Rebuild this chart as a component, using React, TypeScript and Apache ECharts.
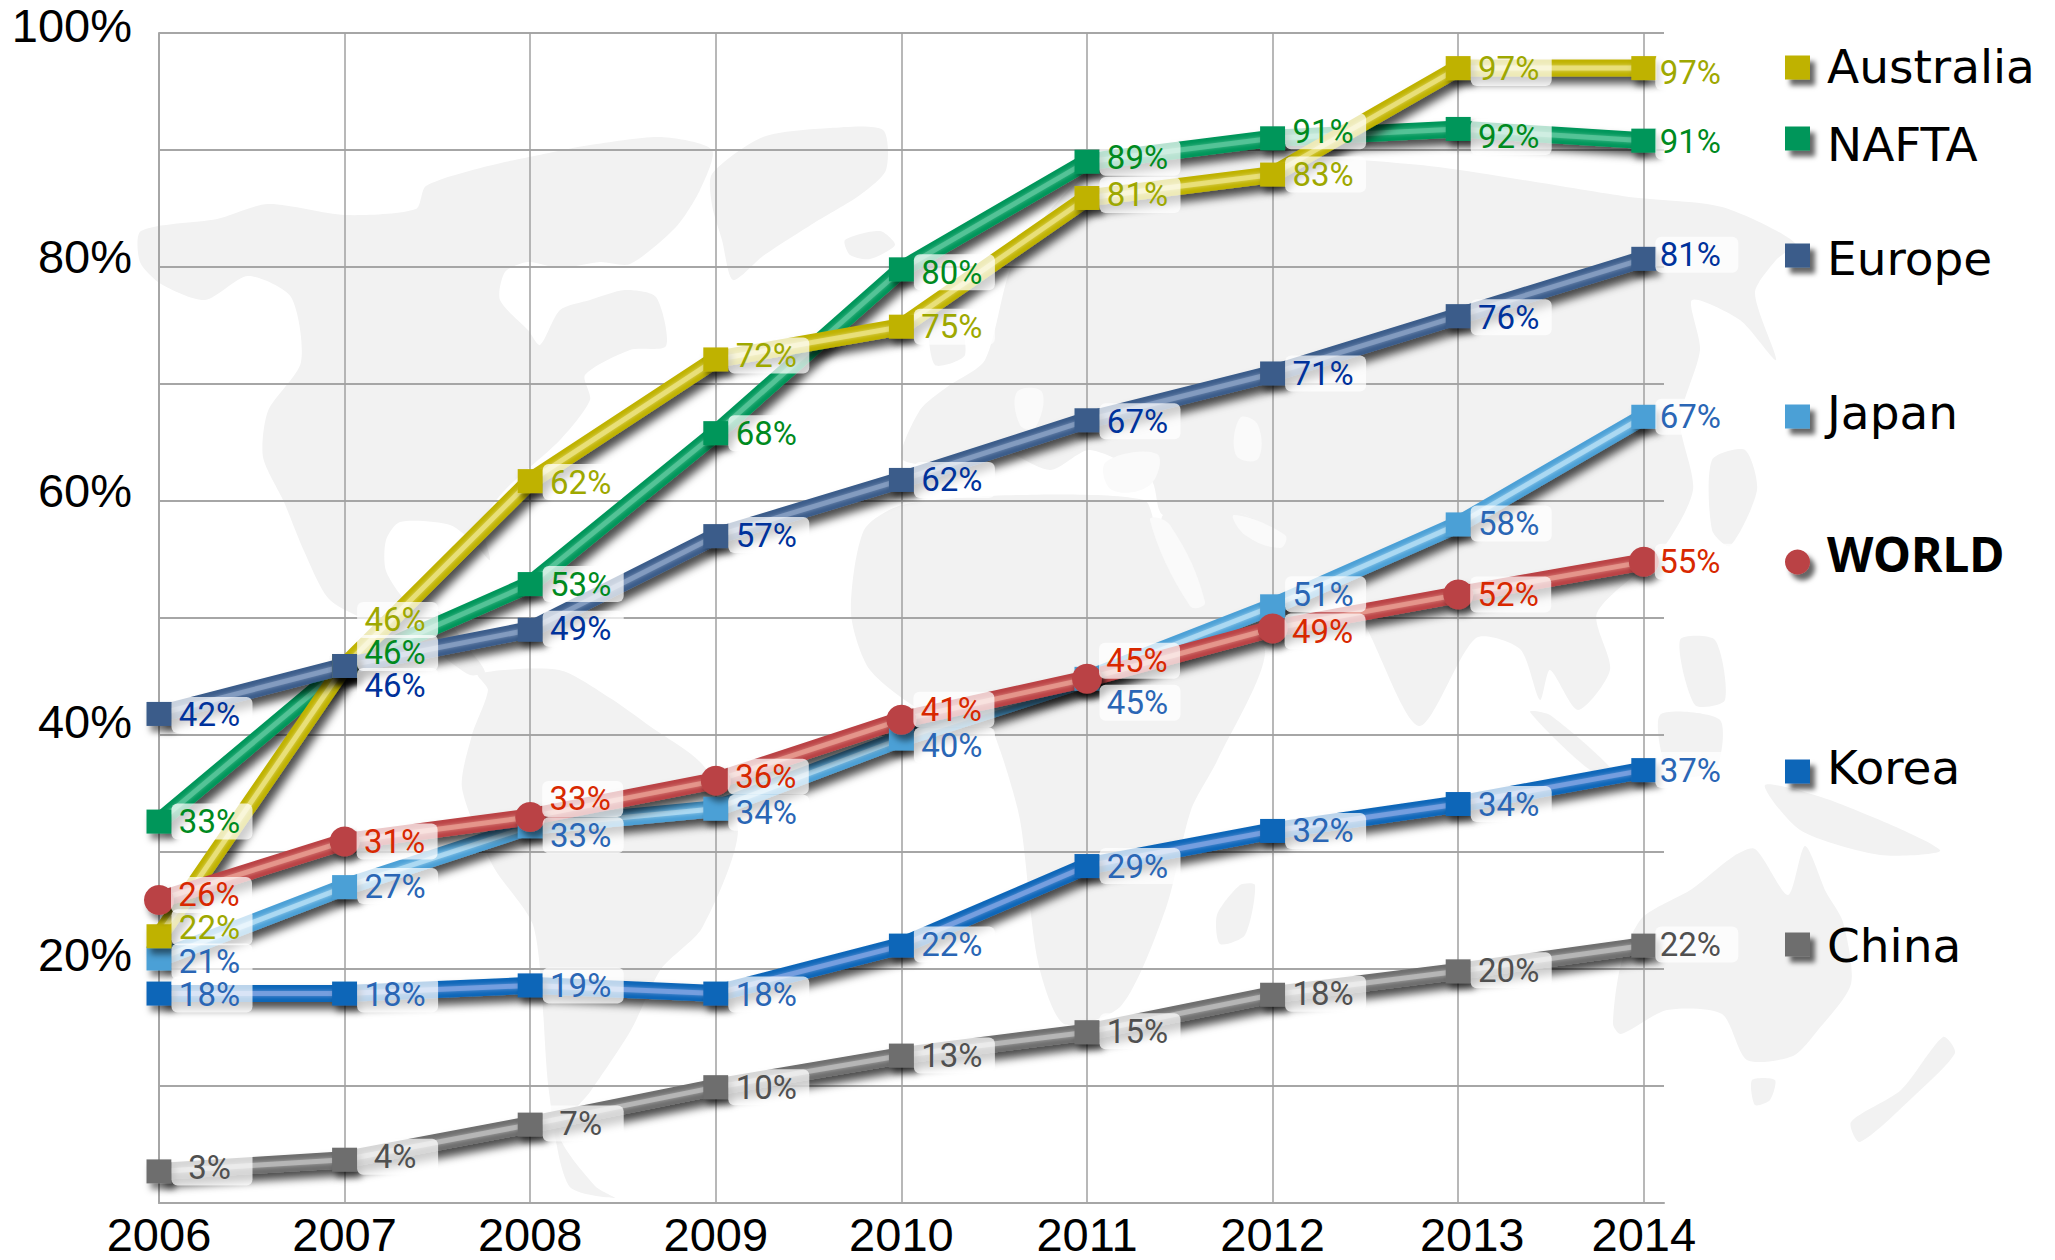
import React, { useEffect, useRef } from "react";
import * as echarts from "echarts";

const years = [2006, 2007, 2008, 2009, 2010, 2011, 2012, 2013, 2014];
const yTickLabels = [20, 40, 60, 80, 100];

const australiaValues = [22.8, 45.9, 61.7, 72.1, 74.9, 85.9, 87.9, 97, 97];
const naftaValues = [32.6, 45.9, 52.9, 65.8, 79.8, 89, 91, 91.8, 90.8];
const europeValues = [41.8, 45.9, 49, 57, 61.8, 66.9, 70.9, 75.8, 80.7];
const japanValues = [20.9, 27, 32.2, 33.7, 39.7, 44.8, 51, 58, 67.2];
const worldValues = [25.9, 30.9, 33, 36.1, 41.3, 44.8, 49.1, 52, 54.8];
const koreaValues = [17.9, 17.9, 18.6, 17.9, 22, 28.8, 31.8, 34.1, 37];
const chinaValues = [2.7, 3.7, 6.7, 9.9, 12.6, 14.6, 17.8, 19.8, 22];

const australiaLabels = [22, 46, 62, 72, 75, 81, 83, 97, 97];
const naftaLabels = [33, 46, 53, 68, 80, 89, 91, 92, 91];
const europeLabels = [42, 46, 49, 57, 62, 67, 71, 76, 81];
const japanLabels = [21, 27, 33, 34, 40, 45, 51, 58, 67];
const worldLabels = [26, 31, 33, 36, 41, 45, 49, 52, 55];
const koreaLabels = [18, 18, 19, 18, 22, 29, 32, 34, 37];
const chinaLabels = [3, 4, 7, 10, 13, 15, 18, 20, 22];

// vertical label nudges, in pixels
const australiaNudge = [-9, -46, 1, -4, 0, -3, 0, 0, 4];
const naftaNudge = [0, -13, 0, 0, 3, -4, -7, 8, 1];
const europeNudge = [1, 20, -1, -1, 0, 1, 0, 1, -4];
const japanNudge = [3, -1, 9, 4, 7, 24, -12, -1, 0];
const worldNudge = [-5, 0, -18, -4, -10, -18, 3, 0, 0];
const koreaNudge = [1, 1, 0, 1, -1, 0, 0, 0, 0];
const chinaNudge = [-4, -3, -1, 0, 0, -1, -1, -1, -1];

const seriesDefs = [
  { name: "China", values: chinaValues, labels: chinaLabels, nudge: chinaNudge, color: "#6e6e6e", hi: "#bdbdbd", text: "#505050", legendY: 946, textDy: 1 },
  { name: "Korea", values: koreaValues, labels: koreaLabels, nudge: koreaNudge, color: "#0e66b8", hi: "#7fa4e2", text: "#2a66b5", legendY: 773, textDy: -4 },
  { name: "Japan", values: japanValues, labels: japanLabels, nudge: japanNudge, color: "#4ca0d6", hi: "#b4def5", text: "#2a66b5", legendY: 418, textDy: -4 },
  { name: "NAFTA", values: naftaValues, labels: naftaLabels, nudge: naftaNudge, color: "#00965a", hi: "#5cc79c", text: "#008a1e", legendY: 140, textDy: 6 },
  { name: "Australia", values: australiaValues, labels: australiaLabels, nudge: australiaNudge, color: "#bfb200", hi: "#ece385", text: "#9ea800", legendY: 69, textDy: -1 },
  { name: "Europe", values: europeValues, labels: europeLabels, nudge: europeNudge, color: "#3a5c8a", hi: "#8aa1c4", text: "#00329b", legendY: 257, textDy: 3 },
  { name: "WORLD", values: worldValues, labels: worldLabels, nudge: worldNudge, color: "#ba4244", hi: "#e89d92", text: "#d82800", legendY: 563, textDy: -9 },
];
const legendOrder = ["Australia", "NAFTA", "Europe", "Japan", "WORLD", "Korea", "China"];

// faint decorative world-map backdrop (page pixels)
const mapLand: number[][][] = [
  // North America
  [[141,231],[217,219],[268,204],[345,215],[416,209],[426,186],[488,166],[549,153],[590,145],[661,137],[712,150],[700,190],[676,227],[630,264],[600,262],[560,268],[528,262],[505,272],[500,300],[528,330],[540,345],[560,310],[590,300],[625,290],[656,297],[666,346],[630,350],[585,375],[590,400],[560,440],[505,490],[483,522],[490,560],[476,545],[450,525],[400,522],[386,540],[386,571],[410,605],[440,612],[470,650],[485,672],[470,675],[440,655],[386,629],[330,600],[304,551],[284,502],[263,457],[268,411],[301,362],[291,297],[248,276],[205,300],[161,284],[140,262]],
  // Greenland
  [[712,174],[763,137],[830,128],[883,130],[886,170],[860,195],[814,223],[763,256],[733,280],[722,240],[712,205]],
  // South America
  [[488,690],[478,674],[559,670],[610,698],[651,727],[702,764],[738,830],[702,928],[661,969],[631,1030],[590,1092],[559,1133],[595,1186],[615,1198],[569,1186],[549,1092],[534,928],[493,866],[462,788],[472,735]],
  // Africa
  [[864,530],[902,505],[1017,495],[1144,500],[1157,531],[1208,613],[1265,650],[1217,761],[1191,810],[1166,908],[1121,1006],[1064,1024],[1038,962],[1020,820],[1000,750],[985,720],[930,715],[870,670],[851,613]],
  // Eurasia
  [[902,459],[920,410],[947,387],[985,360],[1017,254],[1119,151],[1297,156],[1438,167],[1629,197],[1722,207],[1795,243],[1776,260],[1755,293],[1776,360],[1740,320],[1692,300],[1700,350],[1680,420],[1693,490],[1661,551],[1597,613],[1610,670],[1578,710],[1550,670],[1540,700],[1520,649],[1476,638],[1419,726],[1361,618],[1330,590],[1291,577],[1246,515],[1163,515],[1151,480],[1090,450],[1050,470],[1000,450],[960,465]],
  // Arabia
  [[1163,515],[1246,515],[1320,590],[1291,630],[1220,660],[1180,590]],
  // Iceland
  [[845,240],[880,231],[895,245],[870,259],[850,255]],
  // Britain
  [[930,320],[955,310],[965,355],[935,365]],
  // Japan
  [[1712,460],[1745,450],[1757,490],[1730,546],[1712,530]],
  // Philippines
  [[1680,640],[1715,640],[1725,700],[1695,705]],
  // Madagascar
  [[1240,885],[1255,885],[1245,935],[1220,944],[1217,915]],
  // Sumatra
  [[1530,712],[1550,715],[1612,770],[1590,770]],
  // Borneo
  [[1660,715],[1720,720],[1715,770],[1670,775]],
  // New Guinea
  [[1765,785],[1830,800],[1940,850],[1880,855],[1800,830]],
  // Australia
  [[1613,1024],[1621,964],[1642,918],[1692,889],[1734,856],[1755,849],[1788,895],[1805,846],[1826,892],[1843,922],[1851,984],[1818,1030],[1793,1056],[1747,1060],[1722,1014],[1667,1010],[1621,1034]],
  // Tasmania
  [[1752,1080],[1775,1080],[1770,1100],[1755,1105]],
  // New Zealand
  [[1851,1122],[1901,1090],[1943,1037],[1955,1053],[1914,1096],[1860,1142]],
];
// inland seas cut out of the backdrop
const mapSeas: number[][][] = [
  [[1017,392],[1042,392],[1035,428],[1020,425]], // Baltic
  [[1106,462],[1157,454],[1150,485],[1112,490]], // Black Sea
  [[1240,418],[1258,425],[1258,459],[1236,455]], // Caspian
  [[1234,515],[1285,535],[1280,548],[1245,535]], // Persian Gulf
  [[1150,520],[1170,525],[1205,602],[1190,606]], // Red Sea
];

const yLabelLineHeights: Record<number, number> = { 100: 15, 80: 22, 60: 22, 40: 28, 20: 30 };

export default function App() {
  const ref = useRef<HTMLDivElement | null>(null);

  useEffect(() => {
    const chart = echarts.init(ref.current!, undefined, { renderer: "svg" });
    const shadow = { shadowColor: "rgba(0,0,0,0.7)", shadowBlur: 8, shadowOffsetX: 5, shadowOffsetY: 7 };
    const series: any[] = [];
    seriesDefs.forEach((d) => {
      const pts = years.map((y, i) => [y, d.values[i]]);
      series.push({
        name: d.name,
        type: "line",
        data: pts,
        symbol: "none",
        silent: true,
        itemStyle: { color: d.color },
        lineStyle: { color: d.color, width: 17, join: "miter", ...shadow },
      });
      const isWorld = d.name === "WORLD";
      series.push({
        name: d.name + " markers",
        type: "line",
        symbol: isWorld ? "circle" : "rect",
        symbolSize: isWorld ? 30 : [25, 24],
        showSymbol: true,
        showAllSymbol: true,
        silent: true,
        itemStyle: { color: d.color, shadowColor: "rgba(0,0,0,0.5)", shadowBlur: 6, shadowOffsetX: 4, shadowOffsetY: 6 },
        lineStyle: { color: d.hi, width: 5, opacity: 0.8, shadowColor: d.hi, shadowBlur: 4 },
        data: pts.map((p, i) => ({
          value: p,
          label: {
            show: true,
            position: "right",
            distance: isWorld ? -3 : 0,
            offset: [i === 8 ? -1 : 0, d.nudge[i]],
            formatter: `{v|${d.labels[i]}%}`,
            backgroundColor: "rgba(255,255,255,0.72)",
            borderRadius: 6,
            padding: i === 8 ? [0, 18, 0, 5] : [0, 13, 0, 8],
            rich: {
              v: {
                width: 60,
                align: "center",
                height: 36,
                lineHeight: 36,
                fontFamily: "Roboto",
                fontSize: 33,
                color: d.text,
              },
            },
          },
        })),
      });
    });

    const legend = legendOrder.map((name) => {
      const d = seriesDefs.find((s) => s.name === name)!;
      const isWorld = name === "WORLD";
      const pt = d.textDy > 0 ? 2 * d.textDy : 0;
      const pb = d.textDy < 0 ? -2 * d.textDy : 0;
      return {
        data: [name],
        icon: isWorld ? "circle" : "rect",
        left: 1785,
        top: d.legendY - (50 + pt + pb) / 2,
        itemWidth: 25,
        itemHeight: isWorld ? 30 : 24,
        selectedMode: false,
        padding: 0,
        formatter: (n: string) => `{n|${n}}`,
        itemStyle: { color: d.color, shadowColor: "rgba(0,0,0,0.6)", shadowBlur: 5, shadowOffsetX: 5, shadowOffsetY: 6 },
        lineStyle: { width: 0 },
        textStyle: {
          color: "#000",
          rich: {
            n: {
              color: "#000",
              fontFamily: isWorld ? "'Noto Sans'" : "'DejaVu Sans'",
              fontSize: isWorld ? 48 : 47,
              fontWeight: isWorld ? "bold" : "normal",
              lineHeight: 50,
              padding: [pt, 0, pb, 12],
            },
          },
        },
      };
    });

    const graphicElements = [
      ...mapLand.map((points) => ({
        type: "polygon",
        silent: true,
        z: -10,
        shape: { points, smooth: 0.25 },
        style: { fill: "#f2f2f2" },
      })),
      ...mapSeas.map((points) => ({
        type: "polygon",
        silent: true,
        z: -9,
        shape: { points, smooth: 0.4 },
        style: { fill: "#fafafa" },
      })),
    ];

    const yRich: any = {};
    yTickLabels.forEach((v) => {
      yRich[`t${v}`] = { fontFamily: "'Liberation Sans'", fontSize: 47, color: "#000", lineHeight: yLabelLineHeights[v] };
    });

    const option: any = {
      animation: false,
      backgroundColor: "#ffffff",
      graphic: { elements: graphicElements },
      legend,
      grid: { left: 159, top: 33, width: 1505, height: 1170, containLabel: false },
      xAxis: {
        type: "value",
        min: 2006,
        max: 2006 + 1505 / 185.6,
        interval: 1,
        axisLine: { show: true, onZero: false, lineStyle: { color: "#a6a6a6", width: 2 } },
        axisTick: { show: false },
        axisLabel: {
          showMaxLabel: false,
          showMinLabel: true,
          margin: 11,
          fontFamily: "'Liberation Sans'",
          fontSize: 47,
          lineHeight: 40,
          color: "#000",
          formatter: (v: number) => (years.includes(v) ? (v === 2013 ? `{s|${v}}` : String(v)) : ""),
          rich: { s: { padding: [0, 0, 0, 28], fontFamily: "'Liberation Sans'", fontSize: 47, lineHeight: 40, color: "#000" } },
        },
        splitLine: { show: true, showMinLine: false, showMaxLine: false, lineStyle: { color: "#a0a0a0", width: 1.5 } },
      },
      yAxis: {
        type: "value",
        min: 0,
        max: 100,
        interval: 10,
        axisLine: { show: true, lineStyle: { color: "#a6a6a6", width: 2 } },
        axisTick: { show: false },
        axisLabel: {
          margin: 27,
          verticalAlign: "bottom",
          fontFamily: "'Liberation Sans'",
          fontSize: 47,
          color: "#000",
          rich: yRich,
          formatter: (v: number) => (yTickLabels.includes(v) ? `{t${v}|${v}%}` : ""),
        },
        splitLine: { show: true, showMinLine: false, lineStyle: { color: "#a6a6a6", width: 2 } },
      },
      series,
    };
    chart.setOption(option);
    return () => chart.dispose();
  }, []);

  return <div ref={ref} style={{ position: "fixed", left: 0, top: 0, width: 2055, height: 1260, background: "#fff" }} />;
}
